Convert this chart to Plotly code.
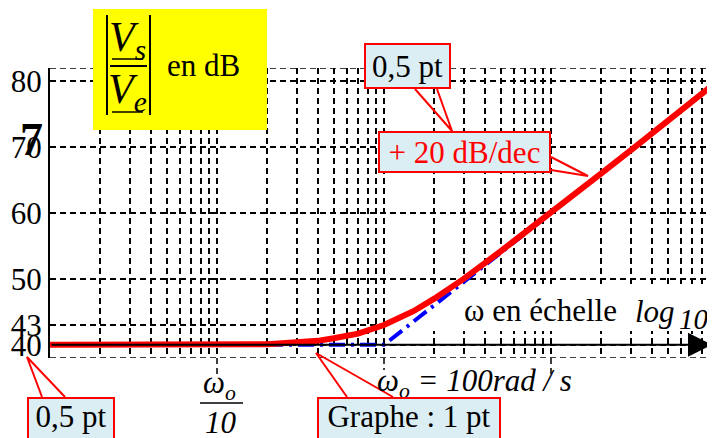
import plotly.graph_objects as go

# Gain (pulsation en rad/s, gain en dB)
omega = [1, 5, 10, 20, 30, 40, 50, 70, 100, 150, 200, 300, 500, 700,
         1000, 2000, 3000, 5000, 7000, 9600]
gain_db = [40, 40, 40, 40.1, 40.4, 40.6, 41.0, 41.7, 43.0, 45.1, 47.0, 50.0,
           54.2, 57.0, 60.0, 66.0, 69.5, 74.0, 76.9, 79.7]

# Diagramme asymptotique
omega_asym = [1, 100, 9600]
gain_asym = [40, 40, 79.6]

# Graduations
y_ticks = [38, 40, 43, 50, 60, 70, 80, 82]
y_labels = ["", "40", "43", "50", "60", "70", "80", ""]
x_grid = [1, 2, 3, 4, 5, 6, 7, 8, 9,
          10, 20, 30, 40, 50, 60, 70, 80, 90,
          100, 200, 300, 400, 500, 600, 700, 800, 900,
          1000, 2000, 3000, 4000, 5000, 6000, 7000, 8000, 9000]
decades = [10, 100, 1000]

# la page a une marge de 8 px : on travaille en pixels de la page
OFF = 8
W, H = 715 - OFF, 438 - OFF
L, R, T, B = 50 - OFF, 0, 68 - OFF, 438 - 358
X_RANGE = [0, 3.982]
Y_RANGE = [38, 82]
FONT = "Liberation Serif"
BLEU_CLAIR = "#dbeef3"
DASH = "6px,4px"


def px(x):
    return (x - 50) / 665


def py(y):
    return (358 - y) / 290


def data_x(x):
    return 10 ** (X_RANGE[0] + px(x) * (X_RANGE[1] - X_RANGE[0]))


def data_y(y):
    return Y_RANGE[0] + py(y) * (Y_RANGE[1] - Y_RANGE[0])


fig = go.Figure()
# cache blanc sous "ω en échelle log10" : au-dessus de la grille, sous les courbes
cx = [data_x(388), data_x(720), data_x(720), data_x(388), data_x(388)]
cy = [data_y(331), data_y(331), data_y(287), data_y(287), data_y(331)]
fig.add_trace(go.Scatter(x=cx, y=cy, mode="lines", fill="toself",
                         fillcolor="white", line=dict(width=0), hoverinfo="skip"))
fig.add_trace(go.Scatter(x=omega_asym, y=gain_asym, mode="lines",
                         line=dict(color="#0000ff", width=4, dash="16px,6px,3px,6px")))
fig.add_trace(go.Scatter(x=omega, y=gain_db, mode="lines",
                         line=dict(color="#ff0000", width=6)))

shapes = []
annotations = []


def texte(x, y, s, size=30, color="black", **kw):
    annotations.append(dict(x=px(x), y=py(y), xref="paper", yref="paper", text=s,
                            showarrow=False, xanchor="center", yanchor="middle",
                            font=dict(family=FONT, size=size, color=color), **kw))


def trait(x0, y0, x1, y1, width=2, color="black"):
    shapes.append(dict(type="line", xref="paper", yref="paper",
                       x0=px(x0), y0=py(y0), x1=px(x1), y1=py(y1), layer="above",
                       line=dict(color=color, width=width)))


def bulle(x0, y0, x1, y1, s, pointe, base1, base2, color="black", haut=False):
    shapes.append(dict(type="path", xref="paper", yref="paper", layer="above",
                       path="M %f,%f L %f,%f L %f,%f" % (px(base1[0]), py(base1[1]),
                                                         px(pointe[0]), py(pointe[1]),
                                                         px(base2[0]), py(base2[1])),
                       line=dict(color="#ff0000", width=2)))
    a = dict(xref="paper", yref="paper", text=s, showarrow=False,
             font=dict(family=FONT, size=31, color=color),
             bgcolor=BLEU_CLAIR, bordercolor="#ff0000", borderwidth=2, borderpad=0,
             width=x1 - x0 - 4, height=y1 - y0 - 4, xanchor="center")
    a["x"] = px((x0 + x1) / 2)
    if haut:
        a.update(y=py(y0), yanchor="top", valign="top")
    else:
        a.update(y=py((y0 + y1) / 2), yanchor="middle")
    annotations.append(a)


# prolongement des décades sous le graphe
for d in decades:
    shapes.append(dict(type="line", xref="x", yref="paper", x0=d, x1=d,
                       y0=0, y1=py(376 if d != 100 else 370), layer="below",
                       line=dict(color="black", width=1.5, dash=DASH)))

# bordures haut/bas en pointillés
for v in [38, 82]:
    shapes.append(dict(type="line", xref="paper", yref="y", x0=0, x1=1, y0=v, y1=v,
                       layer="below", line=dict(color="black", width=1.5, dash=DASH)))

# axe des pulsations avec flèche
annotations.append(dict(x=px(712), y=40, xref="paper", yref="y",
                        ax=-(712 - 50), ay=0, text="",
                        showarrow=True, arrowhead=2, arrowsize=2.4, arrowwidth=2,
                        arrowcolor="black", standoff=0))

# cartouche jaune |Vs/Ve| en dB
shapes.append(dict(type="rect", xref="paper", yref="paper", layer="above",
                   x0=px(93), x1=px(267), y0=py(130), y1=py(9),
                   fillcolor="#ffff00", line=dict(width=0)))
trait(107, 15, 107, 115)
trait(150, 15, 150, 115)
trait(112, 59, 143, 59, width=1.5)
trait(110, 66, 147, 66, width=2)
trait(112, 112, 143, 112, width=1.5)
texte(127, 40, "<i>V<sub>s</sub></i>", size=42)
texte(127, 92, "<i>V<sub>e</sub></i>", size=42)
texte(203, 66, "en dB", size=31)

# 7 en surcharge
texte(31, 139, "<b>7</b>", size=46)

# textes de l'axe horizontal
texte(540, 310, "ω en échelle", size=31)
texte(655, 311, "<i>log</i>", size=31)
texte(694, 319, "<i>10</i>", size=29)
texte(219, 385, "<i>ω<sub>o</sub></i>", size=31)
trait(200, 403, 243, 403, width=1.5)
texte(221, 423, "<i>10</i>", size=31)
texte(474, 383, "<i>ω<sub>o</sub> = 100rad / s</i>", size=31)

# bulles
bulle(364, 43, 451, 89, "0,5 pt", (452, 131), (415, 89), (437, 89))
bulle(378, 131, 551, 173, "+ 20 dB/dec", (588, 176), (551, 157), (551, 170),
      color="#ff0000")
bulle(27, 397, 115, 460, "0,5 pt", (27, 357), (42, 397), (65, 397), haut=True)
bulle(317, 397, 501, 460, "Graphe : 1 pt", (316, 353), (347, 397), (393, 397),
      haut=True)

fig.update_layout(
    width=W, height=H, template="none", showlegend=False,
    paper_bgcolor="white", plot_bgcolor="white",
    margin=dict(l=L, r=R, t=T, b=B, pad=0),
    shapes=shapes, annotations=annotations,
    xaxis=dict(type="log", range=X_RANGE, tickvals=x_grid, showticklabels=False,
               ticks="", showgrid=True, gridcolor="black", gridwidth=1.5, griddash=DASH,
               zeroline=False, showline=False, automargin=False),
    yaxis=dict(range=Y_RANGE, tickvals=y_ticks, ticktext=y_labels, ticks="",
               tickfont=dict(family=FONT, size=31, color="black"),
               showgrid=True, gridcolor="black", gridwidth=1.5, griddash=DASH,
               zeroline=False, showline=True, linecolor="black", linewidth=2,
               automargin=False),
)

fig.write_html("out.html")
